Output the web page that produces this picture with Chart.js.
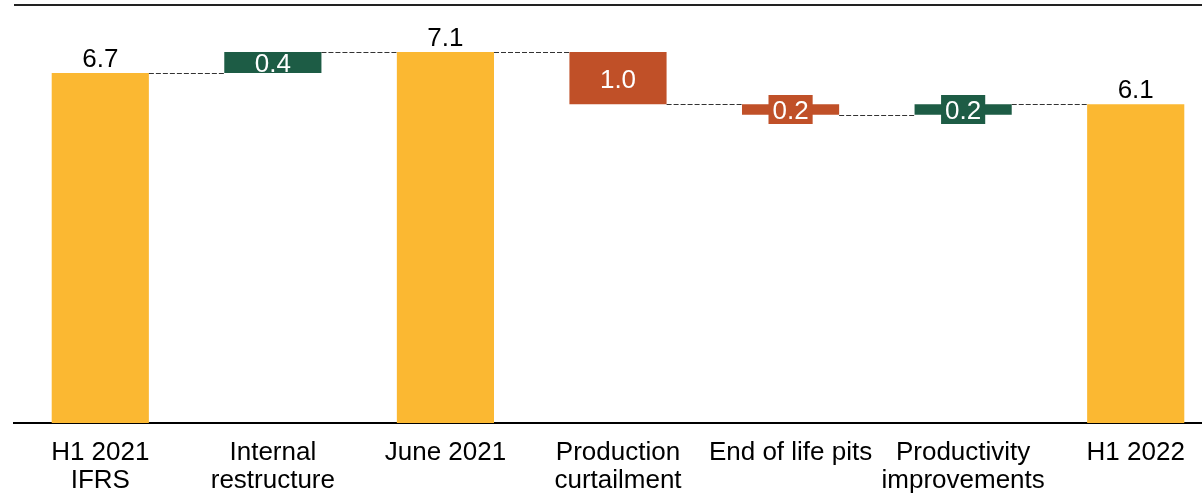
<!DOCTYPE html>
<html>
<head>
<meta charset="utf-8">
<script src="https://cdn.jsdelivr.net/npm/chart.js@4"></script>
<style>
  html, body { margin: 0; padding: 0; background: #fff; overflow: hidden; }
  #wrap { width: 1202px; height: 493px; overflow: hidden; }
  canvas { display: block; }
</style>
</head>
<body>
<div id="wrap"><canvas id="bridge" width="1224" height="493"></canvas></div>
<script>
const categories = [
  ['H1 2021', 'IFRS'],
  ['Internal', 'restructure'],
  'June 2021',
  ['Production', 'curtailment'],
  'End of life pits',
  ['Productivity', 'improvements'],
  'H1 2022'
];
// totals are absolute levels, the rest are movements between them
const steps = [6.7, 0.4, 7.1, -1.0, -0.2, 0.2, 6.1];
const isTotal = [true, false, true, false, false, false, true];

const YELLOW = '#FBB832';
const GREEN = '#1D5C45';
const RED = '#C05028';
const FONT = "'Liberation Sans', Arial, sans-serif";

// floating [start, end] ranges for the waterfall
const ranges = [];
const levels = [];
let running = 0;
steps.forEach((v, i) => {
  if (isTotal[i]) {
    ranges.push([0, v]);
    running = v;
  } else {
    ranges.push([running, running + v]);
    running = running + v;
  }
  levels.push(running);
});
const colors = steps.map((v, i) => isTotal[i] ? YELLOW : (v < 0 ? RED : GREEN));

const waterfallExtras = {
  id: 'waterfallExtras',
  afterDatasetsDraw(chart) {
    const { ctx, chartArea, scales: { y } } = chart;
    const bars = chart.getDatasetMeta(0).data;

    ctx.save();
    // top rule
    ctx.strokeStyle = '#222';
    ctx.lineWidth = 2;
    ctx.beginPath();
    ctx.moveTo(chartArea.left, y.getPixelForValue(8));
    ctx.lineTo(chartArea.right, y.getPixelForValue(8));
    ctx.stroke();

    // dashed connectors between bars
    ctx.strokeStyle = '#333';
    ctx.lineWidth = 1;
    ctx.setLineDash([5, 2]);
    for (let i = 0; i < bars.length - 1; i++) {
      const py = Math.round(y.getPixelForValue(levels[i])) + 0.5;
      ctx.beginPath();
      ctx.moveTo(bars[i].x + bars[i].width / 2, py);
      ctx.lineTo(bars[i + 1].x - bars[i + 1].width / 2, py);
      ctx.stroke();
    }
    ctx.setLineDash([]);

    // value labels
    ctx.font = '26px ' + FONT;
    ctx.textAlign = 'center';
    ctx.textBaseline = 'alphabetic';
    bars.forEach((bar, i) => {
      const txt = Math.abs(steps[i]).toFixed(1);
      const top = Math.min(bar.y, bar.base);
      const bottom = Math.max(bar.y, bar.base);
      if (isTotal[i]) {
        ctx.fillStyle = '#000';
        ctx.fillText(txt, bar.x, top - 6);
      } else {
        const mid = (top + bottom) / 2;
        if (bottom - top < 20) {
          const w = ctx.measureText(txt).width + 8;
          ctx.fillStyle = colors[i];
          ctx.fillRect(bar.x - w / 2, mid - 14.5, w, 29);
        }
        ctx.fillStyle = '#fff';
        ctx.fillText(txt, bar.x, mid + 9.5);
      }
    });
    ctx.restore();
  }
};

new Chart(document.getElementById('bridge'), {
  type: 'bar',
  data: {
    labels: categories,
    datasets: [{
      data: ranges,
      backgroundColor: colors,
      borderWidth: 0,
      barPercentage: 0.563,
      categoryPercentage: 1.0
    }]
  },
  options: {
    responsive: false,
    animation: false,
    layout: { padding: { top: 5, left: 14, right: 2, bottom: 0 } },
    plugins: {
      legend: { display: false },
      tooltip: { enabled: false }
    },
    scales: {
      x: {
        grid: { display: false, drawTicks: false },
        border: { display: true, color: '#000', width: 2 },
        afterFit(scale) { scale.height = 70; },
        ticks: {
          color: '#000',
          padding: 16,
          maxRotation: 0,
          autoSkip: false,
          font: { family: FONT, size: 26, lineHeight: 1.06 }
        }
      },
      y: {
        display: false,
        min: 0,
        max: 8
      }
    }
  },
  plugins: [waterfallExtras]
});
</script>
</body>
</html>
